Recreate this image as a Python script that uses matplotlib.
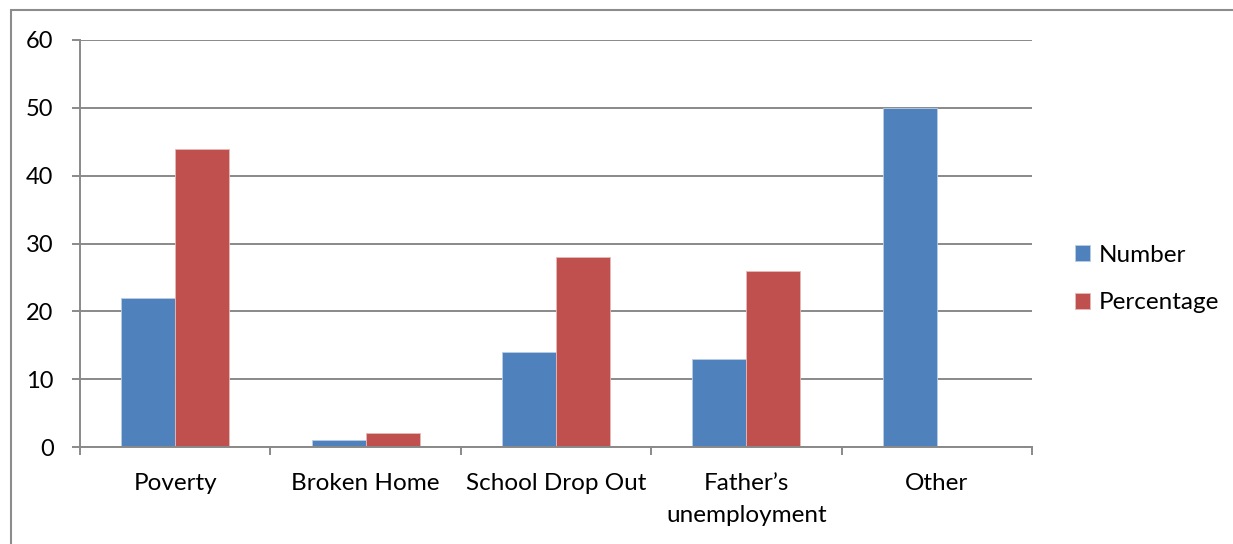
import matplotlib.pyplot as plt
import matplotlib.patches as mpatches
import numpy as np

plt.rcParams.update({
    'font.family': ['Lato', 'DejaVu Sans'],
    'font.size': 17,
})

categories = ['Poverty', 'Broken Home', 'School Drop Out', 'Father\u2019s\nunemployment', 'Other']
number = [22, 1, 14, 13, 50]
percentage = [44, 2, 28, 26, 0]

BLUE = '#4F81BD'
RED = '#C0504D'
GRID = '#898989'

W, H = 1233, 544
fig = plt.figure(figsize=(W / 100, H / 100), dpi=100)
ax = fig.add_axes([80 / W, 1 - 447 / H, (1032 - 80) / W, (447 - 40) / H])

# outer chart border (left and top visible)
fig.patches.append(mpatches.Rectangle((11 / W, -0.1), 1.2, 1 - 10 / H + 0.1,
                                      transform=fig.transFigure, fill=False,
                                      edgecolor='#8c8c8c', linewidth=1.5))

x = np.arange(len(categories))
bw = 0.284
ax.bar(x - bw / 2, number, bw, color=BLUE, edgecolor='#b9cde5', linewidth=0.6,
       label='Number', zorder=3)
ax.bar(x + bw / 2, percentage, bw, color=RED, edgecolor='#e6b9b8', linewidth=0.6,
       label='Percentage', zorder=3)

ax.set_xlim(-0.5, len(categories) - 0.5)
ax.set_ylim(0, 60)
ax.set_yticks(range(0, 61, 10))
ax.yaxis.grid(True, color=GRID, linewidth=1.4, zorder=0)
ax.set_axisbelow(True)

for s in ['top', 'right']:
    ax.spines[s].set_visible(False)
for s in ['left', 'bottom']:
    ax.spines[s].set_color(GRID)
    ax.spines[s].set_linewidth(1.4)
    ax.spines[s].set_zorder(4)

ax.set_xticks(x)
ax.set_xticklabels(categories, linespacing=1.6)
ax.set_xticks(np.arange(-0.5, len(categories), 1.0), minor=True)
ax.tick_params(axis='x', which='major', length=0, pad=19, labelsize=17.5)
ax.tick_params(axis='x', which='minor', length=6, width=1.4, color=GRID)
ax.tick_params(axis='y', length=6, width=1.4, color=GRID, pad=13, labelsize=17)

fig.legend(loc='center left', bbox_to_anchor=(1053 / W, 1 - 279 / H),
           frameon=False, fontsize=17.5, handlelength=0.62, handleheight=0.62,
           handletextpad=0.35, labelspacing=1.1)

fig.savefig('out.png', dpi=100, facecolor='white')
